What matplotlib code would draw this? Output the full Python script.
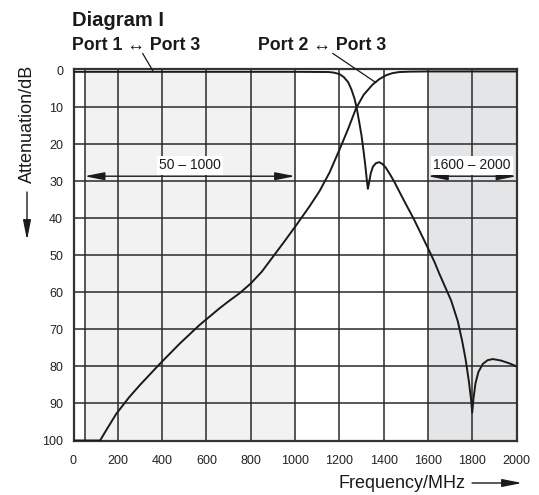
import matplotlib
matplotlib.use("Agg")
import matplotlib.pyplot as plt
from matplotlib.patches import FancyArrowPatch

plt.rcParams['font.family'] = ['Liberation Sans', 'DejaVu Sans']

# Port 1 <-> Port 3 (low-pass)
f1 = [0, 200, 600, 1000, 1150, 1175, 1200, 1220, 1240, 1255, 1268, 1278, 1290, 1300, 1310, 1318,
      1324, 1329, 1334, 1342, 1352, 1365, 1380, 1395, 1410, 1430, 1450, 1480, 1510, 1535, 1570,
      1600, 1630, 1652, 1680, 1705, 1735, 1755, 1770, 1785, 1795, 1800, 1806, 1815, 1828, 1848,
      1870, 1893, 1930, 1970, 2000]
a1 = [0.4, 0.4, 0.4, 0.4, 0.45, 0.6, 1.0, 1.8, 3.2, 5.2, 7.5, 10, 14, 17.5, 22, 26,
      29.5, 32, 30.5, 27.8, 26, 25.1, 24.8, 25.3, 26.3, 28.2, 30.3, 33.8, 37.2, 40, 44.3,
      48, 51.8, 55, 58.8, 62.2, 67.8, 73.2, 78, 84, 89, 92.5, 88.5, 84.5, 81.5, 79.3,
      78.3, 78, 78.4, 79.2, 80]

# Port 2 <-> Port 3 (high-pass)
f2 = [0, 120, 150, 193, 250, 300, 388, 480, 569, 659, 700, 750, 800, 850, 900, 950,
      1000, 1065, 1111, 1156, 1201, 1240, 1276, 1295, 1310, 1351, 1380, 1412, 1440, 1472, 1520,
      1600, 2000]
a2 = [100, 100, 97, 92.8, 88.4, 85, 79.4, 73.8, 68.8, 64.3, 62.4, 60.2, 57.6, 54.4, 50.4, 46.4,
      42.3, 36.8, 32.6, 27.6, 21.4, 15.8, 10.2, 8.2, 6.6, 3.8, 2.4, 1.3, 0.75, 0.45, 0.35,
      0.3, 0.3]

x_ticks = [0, 200, 400, 600, 800, 1000, 1200, 1400, 1600, 1800, 2000]
y_ticks = [0, 10, 20, 30, 40, 50, 60, 70, 80, 90, 100]
bands = [(50, 1000), (1600, 2000)]
band_labels = ["50 – 1000", "1600 – 2000"]
band_colors = ['#f2f2f2', '#e4e5e7']

W, H = 539, 495
fig = plt.figure(figsize=(W / 100, H / 100), dpi=100)
ax = fig.add_axes([73.5 / W, 1 - 440.5 / H, 443 / W, 372 / H])
ax.set_xlim(0, 2000)
ax.set_ylim(100, -0.5)

for (b0, b1), c in zip(bands, band_colors):
    ax.axvspan(b0, b1, color=c, zorder=0, lw=0)

gc = '#2a2a2a'
for xv in x_ticks[1:-1] + [50]:
    ax.axvline(xv, color=gc, lw=1.1, zorder=1)
for yv in y_ticks[1:-1]:
    ax.axhline(yv, color=gc, lw=1.1, zorder=1)

ax.plot(f1, a1, color='#1a1a1a', lw=1.4, zorder=3)
ax.plot(f2, a2, color='#1a1a1a', lw=1.4, zorder=3)

for sp in ax.spines.values():
    sp.set_linewidth(1.6)
    sp.set_color('#333333')

ax.set_xticks(x_ticks)
ax.set_yticks(y_ticks)
ax.tick_params(length=0, labelsize=9, colors='#222222')
ax.tick_params(axis='x', pad=10.5)
ax.tick_params(axis='y', pad=7.5)

astyle = '<|-|>,head_length=1.0,head_width=0.2'
# band annotations
for (b0, b1), lab in zip(bands, band_labels):
    ax.annotate('', xy=(b0, 28.6), xytext=(b1, 28.6),
                arrowprops=dict(arrowstyle=astyle, color='#1a1a1a', lw=1.0,
                                mutation_scale=12, shrinkA=0, shrinkB=0), zorder=4)
    ax.text((b0 + b1) / 2, 25.7, lab, ha='center', va='center', fontsize=10, color='#1a1a1a',
            bbox=dict(facecolor='white', edgecolor='none', pad=1.5), zorder=5)

# titles
fig.text(72 / W, 1 - 25.5 / H, 'Diagram I', fontsize=14.5, fontweight='bold', color='#1a1a1a')
fig.text(72 / W, 1 - 49.5 / H, 'Port 1 ↔ Port 3', fontsize=12.8, fontweight='bold', color='#1a1a1a')
fig.text(258 / W, 1 - 49.5 / H, 'Port 2 ↔ Port 3', fontsize=12.8, fontweight='bold', color='#1a1a1a')

# leader lines
ax.annotate('', xy=(360, 0.3), xytext=(312, -4.6),
            arrowprops=dict(arrowstyle='-', color='#1a1a1a', lw=0.9, shrinkA=0, shrinkB=0),
            annotation_clip=False)
ax.annotate('', xy=(1365, 3.3), xytext=(1170, -4.6),
            arrowprops=dict(arrowstyle='-', color='#1a1a1a', lw=0.9, shrinkA=0, shrinkB=0),
            annotation_clip=False)

# axis labels with arrows
ystl = '-|>,head_length=1.0,head_width=0.2'
fig.text(465 / W, 1 - 483 / H, 'Frequency/MHz', fontsize=13, color='#1a1a1a',
         ha='right', va='center')
fig.add_artist(FancyArrowPatch(
    (472 / W, 1 - 483 / H), (522 / W, 1 - 483 / H), transform=fig.transFigure,
    arrowstyle=ystl, mutation_scale=12, color='#1a1a1a', lw=1.0, shrinkA=0, shrinkB=0))

fig.text(27 / W, 1 - 65 / H, 'Attenuation/dB', fontsize=13, color='#1a1a1a',
         rotation=90, ha='center', va='top')
fig.add_artist(FancyArrowPatch(
    (27 / W, 1 - 192 / H), (27 / W, 1 - 240 / H), transform=fig.transFigure,
    arrowstyle=ystl, mutation_scale=12, color='#1a1a1a', lw=1.0, shrinkA=0, shrinkB=0))

fig.savefig('out.png', dpi=100)
